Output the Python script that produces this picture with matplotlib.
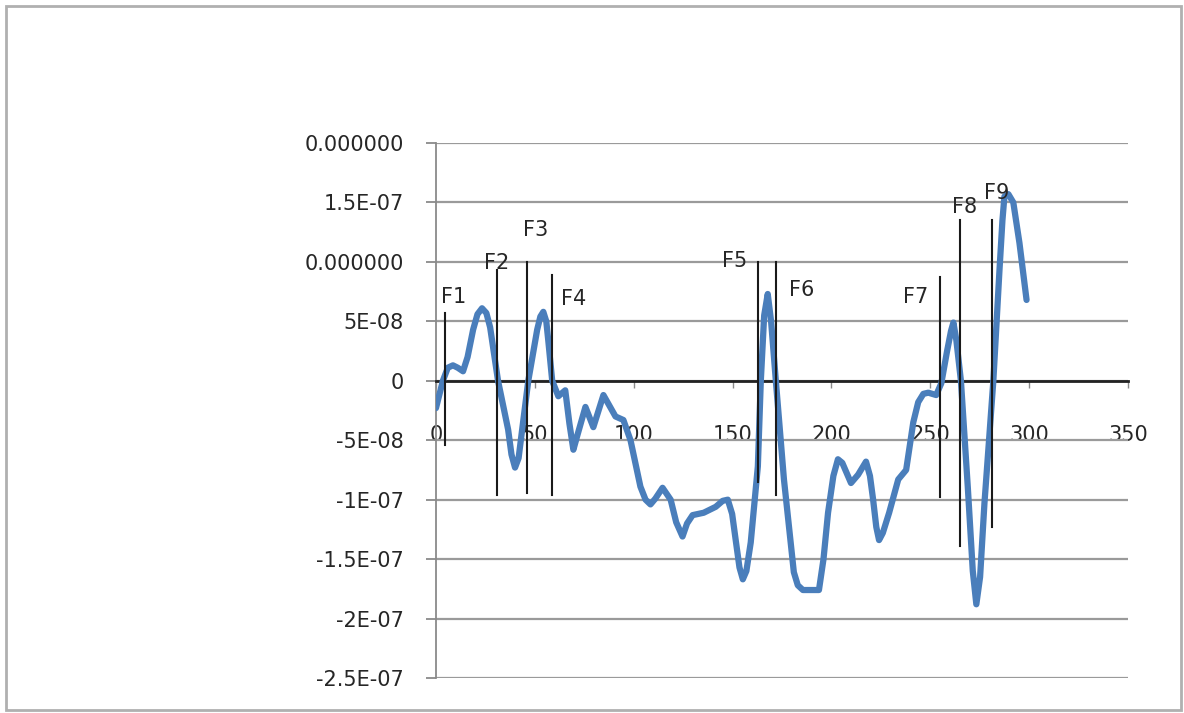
import matplotlib
matplotlib.use("Agg")
import matplotlib.pyplot as plt
from matplotlib.patches import Rectangle
import numpy as np

# curve, y in units of 1E-08
x_vals = [0, 3.5, 6, 8.6, 11, 13.7, 16, 18.8, 21, 23.3, 25.5, 27.4, 31.4,
          36.5, 38.2, 40, 41.8, 43.6, 46.7, 51.2, 52.8, 54.3, 55.8, 56.8,
          58.8, 61.9, 65.4, 67.5, 69.5, 71.5, 75.6, 79.6, 84.7, 90.8, 94.8,
          98.4, 103.4, 106, 108.5, 111, 114.6, 118.7, 121.5, 124.7, 127,
          129.8, 135.4, 141.5, 145, 147.6, 149.8, 151.6, 153.5, 155.2, 157,
          159.2, 162.8, 164.3, 166, 167.8, 169.5, 171.9, 176, 181, 183,
          185.6, 189.7, 193.7, 196, 198.3, 201, 203.3, 205.5, 209.9, 213.5,
          217.5, 219.5, 221.1, 222.7, 224.1, 226, 229.2, 233.8, 237.8, 241.4,
          243.9, 246.5, 249, 253, 255.6, 258.5, 260.5, 261.7, 263.2, 265.5,
          269, 271.5, 273.3, 275.2, 277.4, 281.9, 285, 286.5, 287.5, 289.5,
          292, 295.1, 298.7]
y_vals = [-2.3, 0, 1.1, 1.3, 1.1, 0.8, 2.0, 4.3, 5.6, 6.1, 5.7, 4.5, 0,
          -4.1, -6.2, -7.3, -6.5, -4.1, 0, 4.3, 5.4, 5.8, 5.0, 3.4,
          0, -1.3, -0.8, -3.6, -5.8, -4.6, -2.2, -3.9, -1.2, -3.0, -3.3,
          -5.0, -8.9, -10.0, -10.4, -9.9, -9.0, -10.0, -11.9, -13.1, -12.0,
          -11.3, -11.1, -10.6, -10.1, -10.0, -11.2, -13.4, -15.7, -16.7, -16.0,
          -13.6, -7.2, 0, 5.5, 7.3, 5.0, 0, -8.3, -16.1, -17.2,
          -17.6, -17.6, -17.6, -15.0, -11.1, -8.0, -6.6, -6.9, -8.6, -7.9,
          -6.8, -8.0, -10.0, -12.3, -13.4, -12.8, -11.1, -8.3, -7.5, -3.5,
          -1.8, -1.1, -1.0, -1.2, -0.2, 2.5, 4.2, 4.9, 3.4, 0,
          -9.0, -16.0, -18.8, -16.5, -10.3, 0, 9.3, 13.5, 15.5, 15.7,
          15.0, 11.6, 6.8]

# marker lines F1..F9: x position, top and bottom (units of 1E-08)
f_names = ["F1", "F2", "F3", "F4", "F5", "F6", "F7", "F8", "F9"]
f_x = [4.6, 30.9, 46.1, 58.8, 162.8, 171.9, 255.1, 265.2, 281.4]
f_top = [5.7, 9.3, 10.0, 8.9, 10.0, 10.0, 8.7, 13.5, 13.5]
f_bottom = [-5.4, -9.6, -9.4, -9.6, -8.5, -9.6, -9.8, -13.9, -12.3]
# label anchor (left edge, middle)
f_lab_x = [2.5, 24.3, 44.1, 63.4, 144.6, 178.6, 236.3, 260.8, 277.0]
f_lab_y = [7.06, 9.9, 12.7, 6.9, 10.1, 7.6, 7.06, 14.6, 15.8]

x_ticks = [0, 50, 100, 150, 200, 250, 300, 350]
y_ticks = [-2.5e-7, -2e-7, -1.5e-7, -1e-7, -5e-8, 0, 5e-8, 1e-7, 1.5e-7, 2e-7]
y_tick_labels = ["-2.5E-07", "-2E-07", "-1.5E-07", "-1E-07", "-5E-08", "0",
                 "5E-08", "0.000000", "1.5E-07", "0.000000"]

text_col = "#262626"
scale = 1e-8

fig = plt.figure(figsize=(11.84, 7.13), dpi=100)
ax = fig.add_axes([0.3682, 0.0491, 0.5845, 0.7503])

ax.set_xlim(0, 350)
ax.set_ylim(-2.5e-7, 2e-7)

# horizontal gridlines
ax.set_yticks(y_ticks)
ax.set_yticklabels(y_tick_labels)
ax.yaxis.grid(True, color="#9a9a9a", linewidth=1.6)
ax.set_axisbelow(True)

ax.plot(x_vals, np.array(y_vals) * scale, color="#4a7ebb", linewidth=4.5,
        solid_joinstyle="round", solid_capstyle="round", zorder=3)

for i, name in enumerate(f_names):
    ax.plot([f_x[i], f_x[i]], [f_top[i] * scale, f_bottom[i] * scale],
            color="#1a1a1a", linewidth=1.5, zorder=4)
    ax.text(f_lab_x[i], f_lab_y[i] * scale, name, ha="left", va="center",
            fontsize=15, color=text_col, zorder=5)

# spines: x axis at zero, left axis gray
for s in ["top", "right"]:
    ax.spines[s].set_visible(False)
ax.spines["bottom"].set_position(("data", 0))
ax.spines["bottom"].set_color("#222222")
ax.spines["bottom"].set_linewidth(2.0)
ax.spines["bottom"].set_zorder(2.5)
ax.spines["left"].set_color("#8a8a8a")
ax.spines["left"].set_linewidth(1.3)

ax.set_xticks(x_ticks)
ax.set_xticklabels([str(t) for t in x_ticks])
ax.tick_params(axis="x", direction="out", length=5, width=1, color="#8a8a8a",
               pad=27, labelsize=15, labelcolor=text_col)
ax.tick_params(axis="y", direction="out", length=7, width=1.3,
               color="#8a8a8a", pad=16, labelsize=15, labelcolor=text_col)

# outer chart frame
fig.patches.append(Rectangle((0.005, 0.004), 0.9924, 0.987,
                             transform=fig.transFigure, fill=False,
                             edgecolor="#b0b0b0", linewidth=2))

fig.savefig("out.png", dpi=100)
